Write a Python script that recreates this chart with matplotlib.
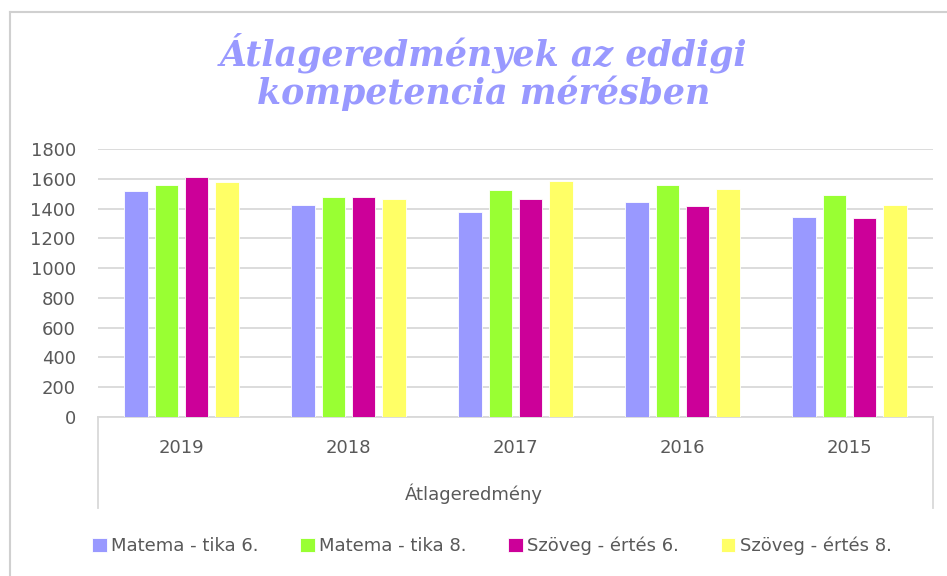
import matplotlib.pyplot as plt
import numpy as np

years = ['2019', '2018', '2017', '2016', '2015']
series_names = ['Matema - tika 6.', 'Matema - tika 8.', 'Szöveg - értés 6.', 'Szöveg - értés 8.']
matek6 = [1515, 1427, 1375, 1445, 1346]
matek8 = [1559, 1478, 1523, 1559, 1489]
szoveg6 = [1615, 1480, 1463, 1418, 1339]
szoveg8 = [1577, 1463, 1586, 1532, 1427]
colors = ['#9999FF', '#99FF33', '#CC0099', '#FFFF66']

txt = '#595959'
fig = plt.figure(figsize=(9.47, 5.76), dpi=100)

# outer chart frame (top and left edges visible)
fig.add_artist(plt.Line2D([10/947, 1], [1-12/576, 1-12/576], color='#D0D0D0', lw=1.5))
fig.add_artist(plt.Line2D([10/947, 10/947], [0, 1-12/576], color='#D0D0D0', lw=1.5))

ax = fig.add_axes([98/947, 1-417/576, (933-98)/947, 268/576])

x = np.arange(len(years))
pitch = 0.181
width = 0.141
for i, (vals, name) in enumerate(zip([matek6, matek8, szoveg6, szoveg8], series_names)):
    ax.bar(x + (i-1.5)*pitch, vals, width, color=colors[i], label=name,
           edgecolor='white', linewidth=0.6, zorder=3)

ax.set_xlim(-0.5, 4.5)
ax.set_ylim(0, 1800)
ax.set_yticks(range(0, 1801, 200))
ax.grid(axis='y', color='#D9D9D9', lw=1.3, zorder=0)
for s in ['top', 'right', 'left']:
    ax.spines[s].set_visible(False)
ax.spines['bottom'].set_color('#D9D9D9')
ax.spines['bottom'].set_linewidth(1.3)
ax.tick_params(axis='both', length=0, colors=txt, labelsize=13)
ax.tick_params(axis='y', pad=16)
ax.set_xticks(x)
ax.set_xticklabels(years)
ax.tick_params(axis='x', pad=16)

# category box side lines
box_h = (508-417)/268
ax.plot([0, 0], [0, -box_h], transform=ax.transAxes, color='#D9D9D9', lw=1.3, clip_on=False)
ax.plot([1, 1], [0, -box_h], transform=ax.transAxes, color='#D9D9D9', lw=1.3, clip_on=False)

fig.text(0.5, 1-494/576, 'Átlageredmény', ha='center', va='center', color=txt, fontsize=13)

fig.text(484/947, 1-72/576, 'Átlageredmények az eddigi\nkompetencia mérésben',
         ha='center', va='center', color='#9999FF', fontsize=25,
         family='DejaVu Serif', weight='bold', style='italic', linespacing=1.1)

fig.legend(loc='center', bbox_to_anchor=(492/947, 1-546/576), ncol=4, frameon=False,
           fontsize=13, labelcolor=txt, handlelength=0.8, handleheight=0.8,
           handletextpad=0.25, columnspacing=2.3)

plt.savefig('out.png', dpi=100)
